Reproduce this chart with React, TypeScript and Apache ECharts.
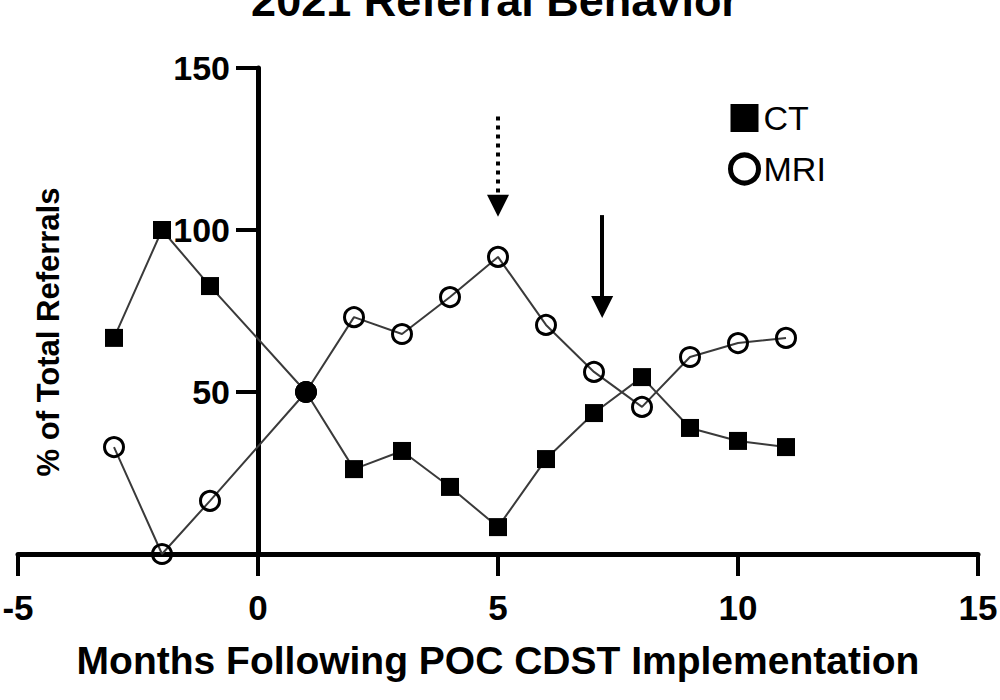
import React, { useEffect, useRef } from 'react';
import * as echarts from 'echarts';

const months = [-3, -2, -1, 1, 2, 3, 4, 5, 6, 7, 8, 9, 10, 11];
const ctValues = [66.7, 100, 82.7, 50, 26.2, 31.8, 20.7, 8.3, 29.3, 43.5, 54.6, 38.9, 34.9, 33];
const mriValues = [33, 0, 16.4, 50, 73.1, 67.9, 79.3, 91.7, 70.7, 56.2, 45.4, 60.8, 65.1, 66.7];
const crossMonth = 1;
const dottedArrow = [[5, 135], [5, 107.5]];
const solidArrow = [[7.17, 104.6], [7.17, 76.2]];
const titleText = '2021 Referral Behavior';
const xName = 'Months Following POC CDST Implementation';
const yName = '% of Total Referrals';

export default function App() {
  const ref = useRef<HTMLDivElement>(null);
  useEffect(() => {
    const chart = echarts.init(ref.current!, null, { renderer: 'svg' });
    const font = '"Liberation Sans", Arial, Helvetica, sans-serif';
    const build = (vals: number[]) =>
      months.map((m, i) =>
        m === crossMonth
          ? {
              value: [m, vals[i]],
              symbol: 'circle',
              symbolSize: 21,
              itemStyle: { color: '#000', borderColor: '#000', borderWidth: 1 },
            }
          : [m, vals[i]]
      );
    const axisTick = { length: 22, lineStyle: { color: '#000', width: 4 } };
    chart.setOption({
      animation: false,
      backgroundColor: '#fff',
      grid: {
        left: 18,
        right: 22,
        top: 68,
        bottom: 146,
        containLabel: false,
        outerBoundsMode: 'none',
      },
      graphic: [
        {
          type: 'text',
          x: 495,
          y: 0,
          style: {
            text: titleText,
            fontSize: 45,
            fontWeight: 'bold',
            fontFamily: font,
            fill: '#000',
            align: 'center',
            verticalAlign: 'middle',
          },
        },
        {
          type: 'text',
          x: 48,
          y: 332,
          rotation: Math.PI / 2,
          style: {
            text: yName,
            fontSize: 31,
            fontWeight: 'bold',
            fontFamily: font,
            fill: '#000',
            align: 'center',
            verticalAlign: 'middle',
          },
        },
      ],
      legend: {
        orient: 'vertical',
        left: 728,
        top: 101,
        padding: 0,
        itemWidth: 28,
        itemHeight: 28,
        itemGap: 17,
        selectedMode: false,
        data: [
          { name: 'CT', icon: 'rect' },
          { name: 'MRI', icon: 'circle', itemStyle: { borderWidth: 5, borderColor: '#000' } },
        ],
        textStyle: { fontSize: 34, color: '#000', fontFamily: font, lineHeight: 28 },
      },
      xAxis: {
        type: 'value',
        min: -5,
        max: 15,
        interval: 5,
        axisLine: { onZero: false, lineStyle: { color: '#000', width: 5 } },
        axisTick,
        axisLabel: {
          margin: 36,
          fontSize: 35,
          fontWeight: 'bold',
          color: '#000',
          fontFamily: font,
          showMinLabel: true,
          showMaxLabel: true,
        },
        splitLine: { show: false },
        name: xName,
        nameLocation: 'middle',
        nameGap: 87,
        nameTextStyle: { fontSize: 39, fontWeight: 'bold', color: '#000', fontFamily: font },
      },
      yAxis: {
        type: 'value',
        min: 0,
        max: 150,
        interval: 50,
        offset: -240,
        axisLine: { onZero: false, lineStyle: { color: '#000', width: 5 } },
        axisTick,
        axisLabel: {
          margin: 28,
          fontSize: 34,
          fontWeight: 'bold',
          color: '#000',
          fontFamily: font,
          formatter: (v: number) => (v === 0 ? '' : String(v)),
        },
        splitLine: { show: false },
      },
      series: [
        {
          name: 'CT',
          type: 'line',
          z: 3,
          data: build(ctValues),
          symbol: 'rect',
          symbolSize: 18,
          itemStyle: { color: '#000' },
          lineStyle: { color: '#3a3a3a', width: 2 },
          emphasis: { disabled: true },
        },
        {
          name: 'MRI',
          type: 'line',
          z: 2,
          data: build(mriValues),
          symbol: 'circle',
          symbolSize: 19,
          itemStyle: { color: 'rgba(255,255,255,0)', borderColor: '#000', borderWidth: 3 },
          lineStyle: { color: '#3a3a3a', width: 2 },
          emphasis: { disabled: true },
        },
        {
          name: 'arrow1',
          type: 'line',
          data: [],
          markLine: {
            silent: true,
            symbol: ['none', 'triangle'],
            symbolSize: [22, 22],
            label: { show: false },
            lineStyle: { color: '#000', width: 4, type: [4, 5] },
            data: [[{ coord: dottedArrow[0] }, { coord: dottedArrow[1] }]],
          },
        },
        {
          name: 'arrow2',
          type: 'line',
          data: [],
          markLine: {
            silent: true,
            symbol: ['none', 'triangle'],
            symbolSize: [22, 22],
            label: { show: false },
            lineStyle: { color: '#000', width: 4, type: 'solid' },
            data: [[{ coord: solidArrow[0] }, { coord: solidArrow[1] }]],
          },
        },
      ],
    });
    return () => chart.dispose();
  }, []);
  return (
    <div
      ref={ref}
      style={{ position: 'fixed', left: 0, top: 0, width: 1000, height: 700, background: '#fff' }}
    />
  );
}
